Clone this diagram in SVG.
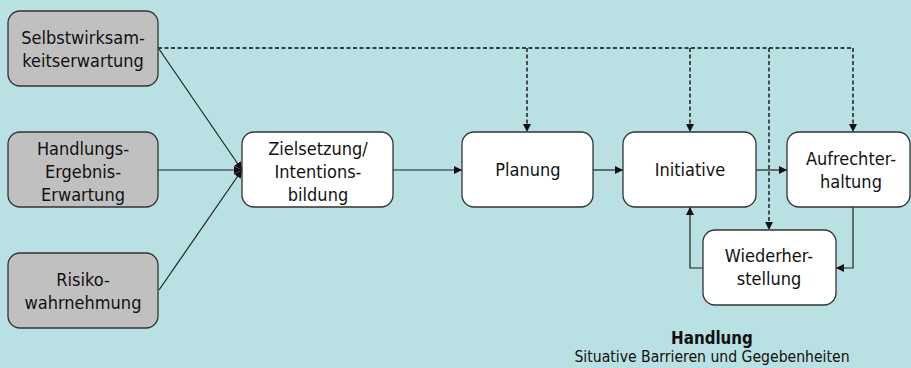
<svg xmlns="http://www.w3.org/2000/svg" width="911" height="368" viewBox="0 0 911 368">
<style>
.bg{fill:#b9e0e3}
.box{stroke:#333;stroke-width:1.3}
.gray{fill:#c0c0c0}
.white{fill:#ffffff}
text{font-family:"DejaVu Sans Condensed","DejaVu Sans",sans-serif;font-size:18px;fill:#111;text-anchor:middle;font-stretch:condensed}
.b{font-weight:bold;font-size:16.8px}
.s{font-size:15.6px}
.ln{fill:none;stroke:#222;stroke-width:1.2}
.dash{fill:none;stroke:#111;stroke-width:1.4;stroke-dasharray:4,2.5}
</style>
<defs>
<marker id="ah" viewBox="0 0 10 10" refX="10" refY="5" markerWidth="8" markerHeight="8" markerUnits="userSpaceOnUse" orient="auto">
<path d="M0,0 L10,5 L0,10 z" fill="#111"/>
</marker>
</defs>
<rect class="bg" x="0" y="0" width="911" height="368"/>
<g id="connectors">
<path class="ln" d="M159,49 L242,170" marker-end="url(#ah)"/>
<path class="ln" d="M158,170 L242,170" marker-end="url(#ah)"/>
<path class="ln" d="M159,290 L242,170" marker-end="url(#ah)"/>
<path class="ln" d="M393,170 L462,170" marker-end="url(#ah)"/>
<path class="ln" d="M593,170 L623,170" marker-end="url(#ah)"/>
<path class="ln" d="M756,170 L787,170" marker-end="url(#ah)"/>
<path class="ln" d="M853,207 L853,268 L836,268" marker-end="url(#ah)"/>
<path class="ln" d="M703,268 L690,268 L690,207" marker-end="url(#ah)"/>
<path class="dash" d="M158,48 L853,48"/>
<path class="dash" d="M527,48 L527,132" marker-end="url(#ah)"/>
<path class="dash" d="M690,48 L690,132" marker-end="url(#ah)"/>
<path class="dash" d="M769,48 L769,230" marker-end="url(#ah)"/>
<path class="dash" d="M853,48 L853,132" marker-end="url(#ah)"/>
</g>
<g id="selbstwirksamkeit">
<rect class="box gray" x="8" y="11" width="150" height="75" rx="12"/>
<text x="83" y="44">Selbstwirksam-</text>
<text x="83" y="67">keitserwartung</text>
</g>
<g id="handlungsergebnis">
<rect class="box gray" x="8" y="132" width="150" height="75" rx="12"/>
<text x="83" y="155">Handlungs-</text>
<text x="83" y="178">Ergebnis-</text>
<text x="83" y="201">Erwartung</text>
</g>
<g id="risiko">
<rect class="box gray" x="8" y="253" width="150" height="75" rx="12"/>
<text x="83" y="286">Risiko-</text>
<text x="83" y="309">wahrnehmung</text>
</g>
<g id="zielsetzung">
<rect class="box white" x="242" y="132" width="151" height="75" rx="12"/>
<text x="318" y="155">Zielsetzung/</text>
<text x="318" y="178">Intentions-</text>
<text x="318" y="201">bildung</text>
</g>
<g id="planung">
<rect class="box white" x="462" y="132" width="131" height="75" rx="12"/>
<text x="528" y="176">Planung</text>
</g>
<g id="initiative">
<rect class="box white" x="623" y="132" width="133" height="75" rx="12"/>
<text x="690" y="176">Initiative</text>
</g>
<g id="aufrechterhaltung">
<rect class="box white" x="787" y="132" width="123" height="75" rx="12"/>
<text x="851" y="165">Aufrechter-</text>
<text x="851" y="188">haltung</text>
</g>
<g id="wiederherstellung">
<rect class="box white" x="703" y="230" width="133" height="75" rx="12"/>
<text x="769" y="262">Wiederher-</text>
<text x="769" y="285">stellung</text>
</g>
<g id="caption">
<text class="b" x="712" y="344">Handlung</text>
<text class="s" x="712" y="362">Situative Barrieren und Gegebenheiten</text>
</g>
</svg>
